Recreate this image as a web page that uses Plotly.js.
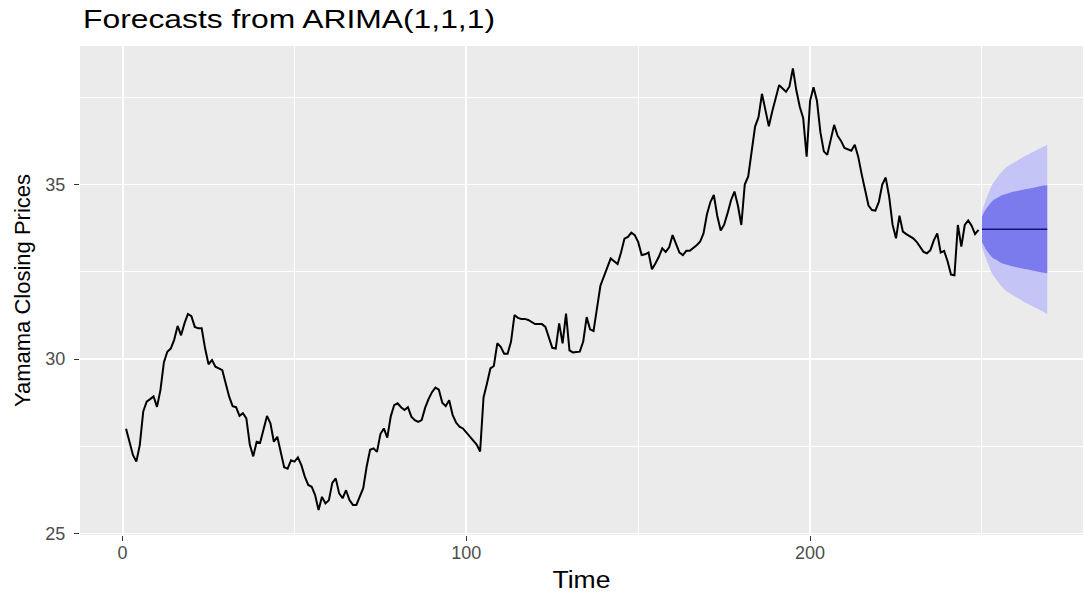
<!DOCTYPE html>
<html>
<head>
<meta charset="utf-8">
<script src="https://cdn.plot.ly/plotly-3.0.1.min.js"></script>
<style>html,body{margin:0;padding:0;background:#fff;}#chart{width:1085px;height:596px;}</style>
</head>
<body>
<div id="chart"></div>
<script>
// Observed closing prices, t = 1..249
const prices = [
28.00,27.65,27.25,27.06,27.54,28.50,28.78,28.85,28.93,28.63,
29.11,29.90,30.21,30.30,30.55,30.95,30.68,31.02,31.29,31.23,
30.92,30.88,30.88,30.30,29.85,29.97,29.78,29.73,29.68,29.30,
28.92,28.65,28.62,28.37,28.45,28.30,27.55,27.21,27.63,27.60,
27.96,28.37,28.16,27.63,27.77,27.29,26.90,26.86,27.10,27.06,
27.18,26.96,26.63,26.39,26.34,26.10,25.67,26.05,25.86,25.95,
26.45,26.58,26.15,26.01,26.24,25.96,25.82,25.82,26.05,26.30,
26.92,27.40,27.44,27.34,27.85,28.01,27.75,28.35,28.68,28.73,
28.62,28.54,28.62,28.35,28.25,28.20,28.25,28.60,28.85,29.05,
29.18,29.12,28.75,28.65,28.82,28.40,28.18,28.06,28.01,27.89,
27.79,27.68,27.55,27.35,28.90,29.30,29.73,29.80,30.45,30.35,
30.15,30.15,30.50,31.26,31.18,31.15,31.15,31.12,31.05,31.00,
31.00,31.00,30.92,30.60,30.32,30.30,31.02,30.45,31.30,30.25,
30.19,30.20,30.21,30.50,31.20,30.85,30.80,31.45,32.10,32.36,
32.64,32.88,32.80,32.72,33.05,33.45,33.50,33.62,33.55,33.35,
32.98,33.00,33.05,32.57,32.74,32.93,33.17,33.07,33.20,33.55,
33.30,33.05,32.98,33.10,33.10,33.17,33.26,33.36,33.60,34.15,
34.50,34.70,34.10,33.68,33.85,34.18,34.55,34.80,34.40,33.84,
35.00,35.23,35.90,36.66,36.93,37.60,37.14,36.67,37.10,37.52,
37.85,37.75,37.66,37.81,38.33,37.70,37.23,36.90,35.80,37.40,
37.79,37.40,36.50,35.95,35.85,36.28,36.71,36.40,36.25,36.05,
36.00,35.97,36.14,35.80,35.30,34.89,34.40,34.27,34.25,34.50,
35.00,35.20,34.65,33.85,33.46,34.11,33.65,33.58,33.53,33.46,
33.36,33.22,33.07,33.03,33.12,33.40,33.60,33.05,33.10,32.80,
32.42,32.40,33.84,33.22,33.84,33.97,33.82,33.58,33.70
];
const timeObs = prices.map((_, i) => i + 1);

// Forecast horizon, t = 250..269
const timeFc = [250,251,252,253,254,255,256,257,258,259,260,261,262,263,264,265,266,267,268,269];
const fcMean = [33.72,33.72,33.72,33.72,33.72,33.72,33.72,33.72,33.72,33.72,33.72,33.72,33.72,33.72,33.72,33.72,33.72,33.72,33.72,33.72];
const hi95 = [34.22,34.52,34.77,35.00,35.14,35.27,35.39,35.49,35.55,35.61,35.67,35.73,35.79,35.84,35.89,35.94,35.99,36.04,36.09,36.13];
const lo95 = [33.22,32.92,32.67,32.44,32.30,32.17,32.05,31.95,31.89,31.83,31.77,31.71,31.65,31.60,31.55,31.50,31.45,31.40,31.35,31.28];
const hi80 = [34.08,34.27,34.41,34.53,34.59,34.65,34.70,34.73,34.76,34.79,34.81,34.83,34.85,34.87,34.89,34.91,34.93,34.95,34.97,34.98];
const lo80 = [33.36,33.17,33.03,32.91,32.85,32.79,32.74,32.71,32.68,32.65,32.63,32.61,32.59,32.57,32.55,32.53,32.51,32.49,32.47,32.46];

const xTicks = [0, 100, 200];
const yTicks = [25, 30, 35];

const FONT = 'Liberation Sans, Arial, sans-serif';
const edge = {width: 0, shape: 'spline', smoothing: 1};

const traces = [
  {x: timeFc, y: lo95, type: 'scatter', mode: 'lines', line: edge, hoverinfo: 'skip', showlegend: false},
  {x: timeFc, y: hi95, type: 'scatter', mode: 'lines', line: edge, fill: 'tonexty', fillcolor: '#C4C4F6', hoverinfo: 'skip', showlegend: false},
  {x: timeFc, y: lo80, type: 'scatter', mode: 'lines', line: edge, hoverinfo: 'skip', showlegend: false},
  {x: timeFc, y: hi80, type: 'scatter', mode: 'lines', line: edge, fill: 'tonexty', fillcolor: '#7B7BEE', hoverinfo: 'skip', showlegend: false},
  {x: timeFc, y: fcMean, type: 'scatter', mode: 'lines', line: {color: '#141470', width: 1.5}, showlegend: false},
  {x: timeObs, y: prices, type: 'scatter', mode: 'lines', line: {color: '#000000', width: 2}, showlegend: false}
];

const layout = {
  width: 1085, height: 596,
  margin: {l: 80, r: 2, t: 46, b: 61},
  paper_bgcolor: '#FFFFFF',
  plot_bgcolor: '#EBEBEB',
  font: {family: FONT, color: '#000000'},
  title: {
    text: 'Forecasts from ARIMA(1,1,1)',
    font: {family: FONT, size: 25, color: '#000000'},
    xref: 'container', yref: 'container',
    x: 0.0765, xanchor: 'left',
    y: 0.968, yanchor: 'middle'
  },
  xaxis: {
    range: [-12.4, 279.4],
    tickvals: xTicks,
    ticktext: xTicks.map(String),
    ticks: 'outside', ticklen: 5, tickwidth: 1, tickcolor: '#333333',
    tickfont: {family: FONT, size: 18, color: '#4D4D4D'},
    ticklabelstandoff: -4,
    showgrid: true, gridcolor: '#FFFFFF', gridwidth: 1.9,
    minor: {dtick: 50, tick0: 0, showgrid: true, gridcolor: '#FFFFFF', gridwidth: 1, ticks: ''},
    zeroline: false, showline: false,
    title: {text: 'Time', font: {family: FONT, size: 23, color: '#000000'}, standoff: 10}
  },
  yaxis: {
    range: [24.957, 38.97],
    tickvals: yTicks,
    ticktext: yTicks.map(String),
    ticks: 'outside', ticklen: 5, tickwidth: 1, tickcolor: '#333333',
    tickfont: {family: FONT, size: 18, color: '#4D4D4D'},
    ticklabelstandoff: 5,
    showgrid: true, gridcolor: '#FFFFFF', gridwidth: 1.9,
    minor: {dtick: 2.5, tick0: 25, showgrid: true, gridcolor: '#FFFFFF', gridwidth: 1, ticks: ''},
    zeroline: false, showline: false,
    title: {text: 'Yamama Closing Prices', font: {family: FONT, size: 22, color: '#000000'}, standoff: 8}
  }
};

Plotly.newPlot('chart', traces, layout, {displayModeBar: false, staticPlot: true}).then(function () {
  // the reference text is horizontally wider than plain Arial; widen the title glyphs to match
  const t = document.querySelector('.gtitle');
  if (t) { t.setAttribute('textLength', '412'); t.setAttribute('lengthAdjust', 'spacingAndGlyphs'); }
  const xt = document.querySelector('.xtitle');
  if (xt) { xt.setAttribute('textLength', '58'); xt.setAttribute('lengthAdjust', 'spacingAndGlyphs'); }
});
</script>
</body>
</html>
